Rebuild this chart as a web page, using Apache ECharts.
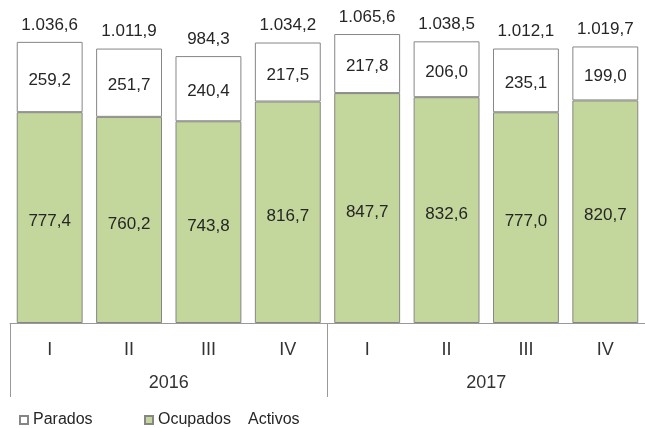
<!DOCTYPE html>
<html><head><meta charset="utf-8">
<script src="https://cdn.jsdelivr.net/npm/echarts@6/dist/echarts.min.js"></script>
<style>html,body{margin:0;padding:0;background:#fff}#c{width:645px;height:428px}</style>
</head><body><div id="c"></div>
<script>
const quarters = ['I','II','III','IV','I','II','III','IV'];
const years = ['2016','2017'];
const ocupados = [777.4,760.2,743.8,816.7,847.7,832.6,777.0,820.7];
const parados = [259.2,251.7,240.4,217.5,217.8,206.0,235.1,199.0];
const activos = [1036.6,1011.9,984.3,1034.2,1065.6,1038.5,1012.1,1019.7];
const legendNames = ['Parados','Ocupados','Activos'];

function fmt(v){
  const s = v.toFixed(1).split('.');
  const i = s[0].replace(/\B(?=(\d{3})+(?!\d))/g,'.');
  return i + ',' + s[1];
}
const FONT = 'Liberation Sans';
const TXT = '#262626';
const legendText = {fontFamily:FONT,fontSize:16,color:TXT};
const chart = echarts.init(document.getElementById('c'), null, {renderer:'canvas'});
chart.setOption({
  animation:false,
  backgroundColor:'#fff',
  textStyle:{fontFamily:FONT},
  grid:{left:10,right:0,top:0,bottom:105,containLabel:false},
  legend:[
    {left:14, top:407, itemWidth:8, itemHeight:8, textStyle:legendText,
     data:[{name:legendNames[0], icon:'rect'}]},
    {left:139, top:407, itemWidth:8, itemHeight:8, textStyle:legendText,
     data:[{name:legendNames[1], icon:'rect'}]},
    {left:230, top:407, itemWidth:8, itemHeight:8, textStyle:legendText,
     data:[{name:legendNames[2], icon:'rect', itemStyle:{opacity:0}}]}
  ],
  xAxis:[
    {type:'category',data:quarters,position:'bottom',
     axisLine:{show:true,lineStyle:{color:'#999',width:1}},
     axisTick:{show:false},
     axisLabel:{margin:18,fontSize:18,color:'#333',fontFamily:FONT}},
    {type:'category',data:years,position:'bottom',
     axisLine:{show:false},
     axisTick:{show:true,length:74,lineStyle:{color:'#999',width:1}},
     axisLabel:{margin:51,fontSize:18,color:'#333',fontFamily:FONT}}
  ],
  yAxis:{type:'value',min:0,max:1191,show:false,splitLine:{show:false}},
  series:[
    {name:legendNames[1],type:'bar',stack:'a',xAxisIndex:0,data:ocupados,barCategoryGap:'17%',
     itemStyle:{color:'#c3d69b',borderColor:'#868686',borderWidth:1},
     label:{show:true,position:'inside',offset:[0,4],formatter:p=>fmt(p.value),fontSize:17,color:TXT,fontFamily:FONT}},
    {name:legendNames[0],type:'bar',stack:'a',xAxisIndex:0,data:parados,barCategoryGap:'17%',
     itemStyle:{color:'#ffffff',borderColor:'#868686',borderWidth:1},
     label:{show:true,position:'inside',offset:[0,3],formatter:p=>fmt(p.value),fontSize:17,color:TXT,fontFamily:FONT}},
    {name:legendNames[2],type:'line',xAxisIndex:0,data:activos,
     symbol:'circle',symbolSize:1,itemStyle:{color:'rgba(0,0,0,0)'},lineStyle:{opacity:0},
     label:{show:true,position:'top',distance:8,formatter:p=>fmt(p.value),fontSize:17,color:TXT,fontFamily:FONT}}
  ]
});
</script></body></html>
